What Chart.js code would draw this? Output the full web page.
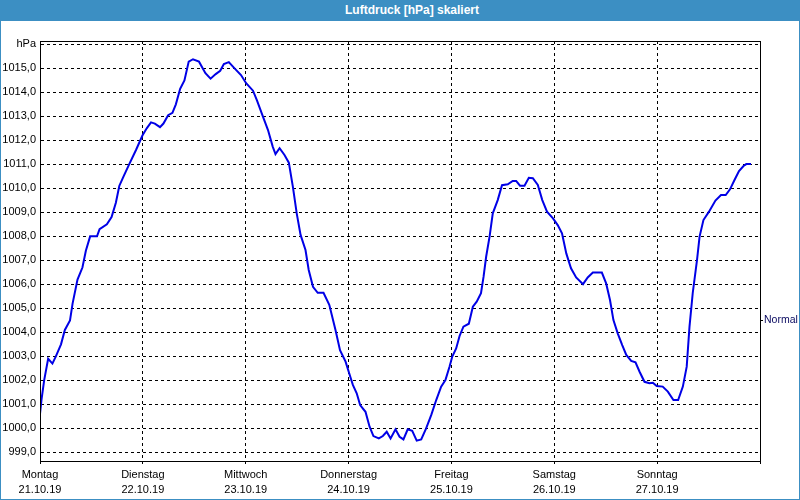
<!DOCTYPE html>
<html><head><meta charset="utf-8">
<script src="https://cdn.jsdelivr.net/npm/chart.js@4/dist/chart.umd.min.js"></script>
<style>
html,body{margin:0;padding:0;background:#fff;}
#wrap{position:relative;width:800px;height:500px;box-sizing:border-box;border:1px solid #3c8fc3;border-top:none;background:#fff;}
#title{position:absolute;left:-1px;top:0;width:800px;height:21px;background:#3c8fc3;}
#title div{position:absolute;left:262px;top:0;width:300px;text-align:center;color:#fff;font:bold 12px "Liberation Sans",Arial,sans-serif;line-height:20px;}
canvas{position:absolute;left:0;top:21px;}
</style></head>
<body>
<div id="wrap">
  <div id="title"><div>Luftdruck [hPa] skaliert</div></div>
  <canvas id="c" width="798" height="479"></canvas>
</div>
<script>
// Hours since Monday 21.10.19 00:00
const hours = [0.0,0.35,0.97,1.9,2.9,3.7,4.9,5.8,7.0,7.6,8.75,9.9,10.7,11.7,13.3,13.9,15.6,16.7,17.7,18.5,19.5,20.8,22.4,23.9,24.9,25.9,26.8,28.0,28.8,29.9,30.9,31.7,32.7,33.7,34.7,35.7,37.1,38.6,39.8,41.0,42.05,42.9,44.06,45.4,46.9,48.1,49.7,50.6,52.0,53.2,54.3,54.95,55.9,57.05,58.06,59.0,59.9,60.8,61.95,62.7,63.7,64.8,66.15,67.5,68.95,70.0,71.3,72.4,73.0,73.9,74.7,75.95,76.9,77.8,79.06,80.0,80.9,81.8,82.95,83.9,84.8,85.8,86.85,87.9,88.95,90.1,91.3,92.45,93.6,94.6,95.55,96.2,97.1,97.9,98.8,100.06,101.0,101.9,102.9,103.5,104.1,104.9,105.65,106.8,107.8,109.15,110.3,111.1,112.0,113.05,114.06,115.0,116.16,117.2,118.3,119.7,120.8,121.8,122.8,123.9,125.1,126.7,127.8,129.0,131.1,132.1,133.0,133.8,134.8,135.85,136.8,137.95,138.95,139.9,141.05,142.2,143.0,143.9,145.3,146.5,147.8,148.9,150.0,150.9,151.55,152.3,153.3,153.9,154.8,156.1,157.6,158.9,160.0,161.0,162.05,163.1,164.15,164.8,165.9];
const pressure = [1000.6,1001.2,1002.0,1002.9,1002.7,1003.0,1003.5,1004.1,1004.5,1005.2,1006.2,1006.7,1007.4,1008.0,1008.0,1008.3,1008.5,1008.8,1009.4,1010.1,1010.5,1011.0,1011.6,1012.2,1012.5,1012.75,1012.7,1012.55,1012.7,1013.05,1013.15,1013.5,1014.15,1014.5,1015.28,1015.38,1015.28,1014.8,1014.57,1014.76,1014.9,1015.18,1015.26,1015.0,1014.72,1014.38,1014.07,1013.68,1013.0,1012.43,1011.74,1011.43,1011.67,1011.39,1011.07,1010.07,1008.96,1008.06,1007.43,1006.6,1005.9,1005.65,1005.65,1005.15,1004.1,1003.26,1002.78,1002.15,1001.81,1001.46,1000.97,1000.69,1000.07,999.68,999.58,999.68,999.86,999.58,999.96,999.65,999.54,999.96,999.9,999.49,999.54,1000.0,1000.56,1001.18,1001.74,1002.01,1002.57,1002.99,1003.33,1003.85,1004.24,1004.36,1005.07,1005.28,1005.63,1006.32,1007.15,1007.99,1008.96,1009.51,1010.13,1010.17,1010.31,1010.31,1010.11,1010.11,1010.44,1010.42,1010.14,1009.51,1009.03,1008.75,1008.47,1008.13,1007.29,1006.67,1006.29,1006.01,1006.29,1006.49,1006.49,1006.04,1005.35,1004.51,1003.96,1003.47,1003.06,1002.81,1002.75,1002.36,1001.94,1001.88,1001.9,1001.76,1001.74,1001.53,1001.18,1001.18,1001.74,1002.57,1004.24,1005.63,1007.01,1007.99,1008.68,1009.03,1009.49,1009.72,1009.72,1009.96,1010.35,1010.72,1010.93,1011.01,1011.01];
const dayNames = ["Montag","Dienstag","Mittwoch","Donnerstag","Freitag","Samstag","Sonntag"];
const dayDates = ["21.10.19","22.10.19","23.10.19","24.10.19","25.10.19","26.10.19","27.10.19"];
const dayTicks = [0,24,48,72,96,120,144,168];
const yTicks = [999,1000,1001,1002,1003,1004,1005,1006,1007,1008,1009,1010,1011,1012,1013,1014,1015,1016];
const unitLabel = "hPa";
const normalValue = 1004.5;
const normalLabel = "Normal";

const FONT = "'Liberation Sans', Arial, sans-serif";
const points = hours.map((h,i)=>({x:h,y:pressure[i]}));

const framePlugin = {
  id:'frame',
  afterDraw(chart){
    const a = chart.chartArea, ctx = chart.ctx;
    ctx.save();
    ctx.strokeStyle = '#000';
    ctx.lineWidth = 1;
    ctx.strokeRect(Math.round(a.left)+0.5, Math.round(a.top)+0.5, Math.round(a.right-a.left), Math.round(a.bottom-a.top));
    ctx.restore();
  }
};

new Chart(document.getElementById('c'), {
  type:'line',
  data:{datasets:[{data:points,borderColor:'rgb(0,0,230)',borderWidth:2,pointRadius:0,tension:0,fill:false,yAxisID:'y'}]},
  options:{
    responsive:false,animation:false,
    layout:{padding:{top:20,left:0,right:0,bottom:0}},
    plugins:{legend:{display:false},tooltip:{enabled:false}},
    scales:{
      x:{type:'linear',min:0,max:168,
        afterBuildTicks(s){s.ticks = dayTicks.map(v=>({value:v}));},
        afterFit(s){s.height=39;},
        grid:{color:'#000',lineWidth:1,tickLength:3,tickColor:'#000',drawTicks:true},
        border:{display:true,color:'#000',dash:[3,3]},
        ticks:{autoSkip:false,maxRotation:0,minRotation:0,padding:3,color:'#000',
          font:{family:FONT,size:11,lineHeight:'15px'},
          callback(v){const i=dayTicks.indexOf(v); return (i>=0 && i<dayNames.length)?[dayNames[i],dayDates[i]]:'';}}
      },
      y:{type:'linear',position:'left',min:998.64,max:1016.14,
        afterBuildTicks(s){s.ticks = yTicks.map(v=>({value:v}));},
        afterFit(s){s.width=39;},
        grid:{color:'#000',lineWidth:1,drawTicks:false},
        border:{display:true,color:'#000',dash:[3,3]},
        ticks:{padding:4,color:'#000',font:{family:FONT,size:11},
          callback(v){return v===1016?unitLabel:v.toFixed(1).replace('.',',');}}
      },
      y2:{type:'linear',position:'right',min:998.64,max:1016.14,
        afterBuildTicks(s){s.ticks=[{value:normalValue}];},
        afterFit(s){s.width=39;},
        grid:{drawOnChartArea:false,tickLength:3,tickColor:'#000',color:'#000'},
        border:{display:false},
        ticks:{padding:1,color:'#0a0a60',font:{family:FONT,size:10.5},callback(){return normalLabel;}}
      }
    }
  },
  plugins:[framePlugin]
});
</script>
</body></html>
